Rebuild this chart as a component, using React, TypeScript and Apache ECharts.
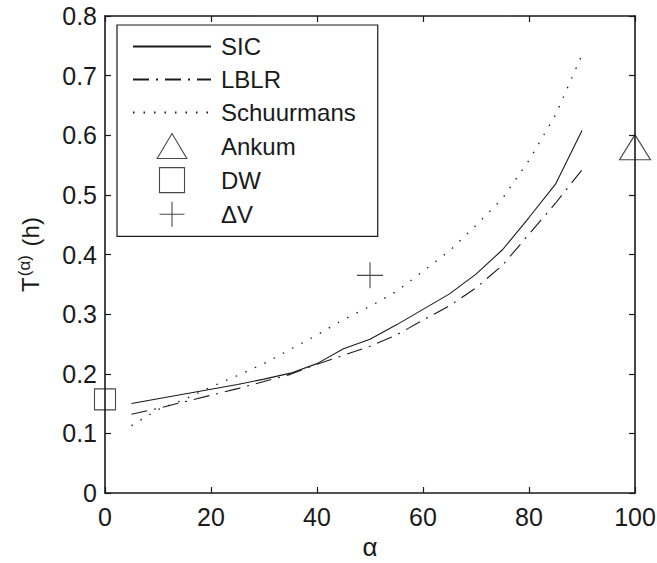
import React, { useEffect, useRef } from "react";
import * as echarts from "echarts";

const alpha = [5, 10, 15, 20, 25, 30, 35, 40, 45, 50, 55, 60, 65, 70, 75, 80, 85, 90];
const sic = [0.150, 0.158, 0.166, 0.174, 0.182, 0.191, 0.201, 0.217, 0.242, 0.258, 0.282, 0.308, 0.334, 0.367, 0.408, 0.462, 0.518, 0.608];
const lblr = [0.132, 0.142, 0.153, 0.164, 0.175, 0.187, 0.199, 0.216, 0.231, 0.246, 0.265, 0.290, 0.314, 0.344, 0.382, 0.434, 0.486, 0.542];
const schuurmans = [0.113, 0.140, 0.157, 0.178, 0.197, 0.217, 0.241, 0.265, 0.291, 0.313, 0.338, 0.372, 0.406, 0.449, 0.494, 0.558, 0.634, 0.735];
const ankumPoint = [100, 0.58];
const dwPoint = [0, 0.157];
const dvPoint = [50, 0.365];

const xMin = 0, xMax = 100, xStep = 20;
const yMin = 0, yMax = 0.8, yStep = 0.1;

const INK = "#1a1a1a";
const FONT = "Liberation Sans, Arial, sans-serif";

const pairs = (ys: number[]) => alpha.map((a, i) => [a, ys[i]]);

export default function App() {
  const ref = useRef<HTMLDivElement>(null);
  useEffect(() => {
    if (!ref.current) return;
    const chart = echarts.init(ref.current, undefined, { renderer: "svg" });
    const axisCommon = {
      type: "value" as const,
      axisLine: { show: true, onZero: false, lineStyle: { color: INK, width: 1.6 } },
      axisTick: { show: true, inside: true, length: 6, lineStyle: { color: INK, width: 1.2 } },
      splitLine: { show: false },
    };
    const hollow = { color: "transparent", borderColor: INK, borderWidth: 1.1 };
    const noSymbol = { color: "transparent", borderColor: "transparent", borderWidth: 0, opacity: 0 };
    chart.setOption({
      animation: false,
      backgroundColor: "#fff",
      grid: { left: 105, right: 22, top: 16, bottom: 70, containLabel: false, outerBoundsMode: "none" },
      xAxis: [
        {
          ...axisCommon,
          position: "bottom",
          min: xMin, max: xMax, interval: xStep,
          name: "α",
          nameLocation: "middle",
          nameGap: 44,
          nameTextStyle: { fontFamily: FONT, fontSize: 26, color: INK, lineHeight: 20 },
          axisLabel: { show: true, margin: 11, fontFamily: FONT, fontSize: 25, color: INK },
        },
        {
          ...axisCommon,
          position: "top",
          min: xMin, max: xMax, interval: xStep,
          axisLabel: { show: false },
        },
      ],
      yAxis: [
        {
          ...axisCommon,
          position: "left",
          min: yMin, max: yMax, interval: yStep,
          name: "T{sup|(α)} (h)",
          nameLocation: "middle",
          nameGap: 60,
          nameRotate: 90,
          nameTextStyle: {
            fontFamily: FONT, fontSize: 24, color: INK,
            rich: {
              sup: { fontFamily: FONT, fontSize: 17, color: INK, padding: [0, 2, 12, 1] },
            },
          },
          axisLabel: { show: true, margin: 8, fontFamily: FONT, fontSize: 25, color: INK },
        },
        {
          ...axisCommon,
          position: "right",
          min: yMin, max: yMax, interval: yStep,
          axisLabel: { show: false },
        },
      ],
      legend: {
        show: true,
        orient: "vertical",
        left: 117,
        top: 25,
        backgroundColor: "#fff",
        borderColor: INK,
        borderWidth: 1.2,
        padding: [9, 22, 9, 15],
        itemWidth: 78,
        itemHeight: 25,
        itemGap: 8,
        align: "left",
        selectedMode: false,
        textStyle: { fontFamily: FONT, fontSize: 24, color: INK, padding: [0, 0, 0, 5], lineHeight: 25 },
        data: [
          { name: "SIC", itemStyle: noSymbol },
          { name: "LBLR", itemStyle: noSymbol },
          { name: "Schuurmans", itemStyle: noSymbol },
          { name: "Ankum", icon: "path://M0,27 L16,0 L32,27 Z", itemStyle: hollow },
          { name: "DW", icon: "path://M0,0 L22,0 L22,22 L0,22 Z", itemStyle: hollow },
          { name: "ΔV", icon: "path://M13,0 L13,26 M0,13 L26,13", itemStyle: hollow },
        ],
      },
      series: [
        {
          name: "SIC", type: "line", data: pairs(sic), symbol: "none", showSymbol: false,
          lineStyle: { color: INK, width: 1.1, type: "solid" },
          itemStyle: { color: INK },
        },
        {
          name: "LBLR", type: "line", data: pairs(lblr), symbol: "none", showSymbol: false,
          lineStyle: { color: INK, width: 1.1, type: [16, 7, 2, 7] },
          itemStyle: { color: INK },
        },
        {
          name: "Schuurmans", type: "line", data: pairs(schuurmans), symbol: "none", showSymbol: false,
          lineStyle: { color: INK, width: 1.3, type: [1.5, 9] },
          itemStyle: { color: INK },
        },
        {
          name: "Ankum", type: "scatter", data: [ankumPoint], clip: false,
          symbol: "triangle", symbolSize: [31, 25],
          itemStyle: hollow,
        },
        {
          name: "DW", type: "scatter", data: [dwPoint], clip: false,
          symbol: "rect", symbolSize: 21,
          itemStyle: hollow,
        },
        {
          name: "ΔV", type: "scatter", data: [dvPoint], clip: false,
          symbol: "path://M13,0 L13,26 M0,13 L26,13", symbolSize: 26,
          itemStyle: hollow,
        },
      ],
    });
    return () => chart.dispose();
  }, []);
  return (
    <div
      ref={ref}
      style={{ position: "fixed", left: 0, top: 0, width: 657, height: 563, background: "#fff" }}
    />
  );
}
